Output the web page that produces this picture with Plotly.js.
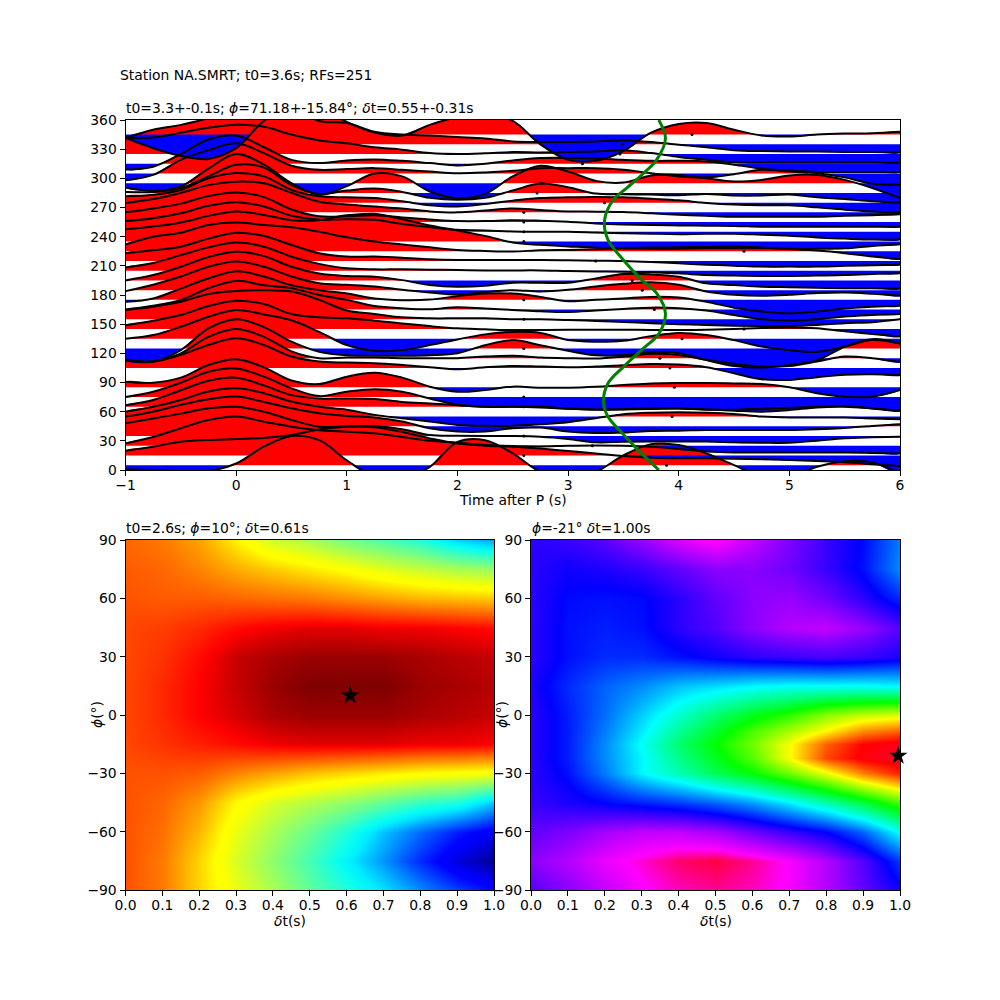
<!DOCTYPE html>
<html><head><meta charset="utf-8">
<script src="https://cdn.plot.ly/plotly-3.0.1.min.js"></script>
<style>html,body{margin:0;padding:0;background:#fff}#g{width:1000px;height:1000px}</style></head>
<body><div id="g"></div>
<script>
// time samples every 0.25 s from -1 to 6
const times=[-1,-.75,-.5,-.25,0,.25,.5,.75,1,1.25,1.5,1.75,2,2.25,2.5,2.75,3,3.25,3.5,3.75,4,4.25,4.5,4.75,5,5.25,5.5,5.75,6];
const phiBins=[5,15,25,35,45,55,65,75,85,105,115,125,135,145,155,165,175,185,195,205,215,225,235,245,255,265,275,285,295,305,315,325,335,345];
const rfCounts=[1,1,4,2,4,10,2,1,1,2,2,1,1,1,1,16,4,47,31,8,5,2,2,9,38,12,14,11,2,1,1,8,5,1];
const amp_345=[-3.4,-14,-22,-25,-14,14,30,30,13,2,-1,10,18,22,14,-10,-26,-27,-17,2,11,12,5,-1,-2,0,1,1.5,3];
const amp_335=[6.5,15,20,27,38,40,38,24,22,13,10,9,7.5,6,3,2.4,2.4,3,4,2.4,-.5,-3,-6,-7,-7.5,-7.5,-8,-8,-8.5];
const amp_325=[16.5,17,22,27,30,28,20,14,11,7,4.5,1,0,.7,2,1.7,2,2.7,3.8,1,-3,-6,-8.5,-9,-9,-9,-9,-9,-9];
const amp_315=[-6,-3,10,25,29,17,4,.7,3.4,4.5,3,.7,-1.7,0,3.4,5.8,6,5.5,4,3,3,2.4,-1,-5,-7,-8.5,-8.5,-8.5,-8.5];
const amp_305=[-7,-1.4,14,24,31,21,8,3.8,4.5,5.5,3.8,2,.3,1,2.7,5.5,5.5,5.5,3.8,.3,-3,-4,-.7,3.8,2,.3,-4,-10.6,-11.6];
const amp_295=[-4.5,-8,-3.4,15,30,19,0,-12,-3,10,7,-8.5,-15.5,-11,7,18,12,2.4,.7,8,8.5,5,1.7,3.4,8,8.5,3.4,-5,-15.4];
const amp_285=[1,1,5,17,29,26,8,-1,2.4,4.5,1,-5,-7,-5,2.4,9.6,5.8,-.7,-1.4,-1.7,-2.4,-1,-2.7,-2.7,-1.7,-4.5,-6.2,-8.6,-10];
const amp_275=[6.5,8,13,25,30.5,27,13,6.5,5.5,4.8,1.4,-2.7,-4,-1.4,2,4.8,5.5,5.8,5.5,4,2.4,-.3,-2,-2.7,-2.7,-4.8,-7.2,-9,-10];
const amp_265=[9.6,13.7,20,28,31.6,30,20,11,8,6,4,1,0,2,4,2.4,1,.7,.3,-1,-2.5,-3.5,-4.5,-4.5,-4.5,-4.5,-3.5,-3,-2];
const amp_255=[10,14,19,26.7,30.5,25.7,13,6,6,7,4.8,2.7,1,1,2,1.4,.3,-1.4,-2.4,-3,-3.4,-3.8,-4,-4.8,-4.8,-4.8,-4.8,-4.8,-4.8];
const amp_245=[11,14,19,26.7,30.5,26,16.5,12.3,13,12.3,8,4.8,2,1.4,.3,0,0,-.7,-1.4,-2,-2.4,-2,-2,-3,-4,-5.8,-7,-8,-8];
const amp_235=[12.7,15.4,19.5,26.4,30.8,27.4,22,22,27,28.5,23,16.5,11.3,5.8,-1,-3.4,-5,-6.5,-7,-7.5,-7.5,-7,-7,-7,-7.5,-7.5,-7,-4.5,-2.7];
const amp_225=[7,15,19,27,29.5,27,24.7,20,14.4,10,7,4,1.4,.3,-.3,1,1.4,2,3,3.8,4,4.5,4.8,3.8,2.4,.7,-2,-5.5,-8];
const amp_215=[8,11,14.7,23,29,25.7,16.5,8,4.5,4.5,3.4,1.7,1,1,1,1,.7,.3,0,-1,-2.4,-3.8,-4.8,-5.8,-5.8,-5.8,-5,-4.5,-4];
const amp_205=[3.4,8,16,24,29,24.7,14.4,7,2.4,1.4,1.4,1,.7,.3,.3,.3,-.3,-.7,-1,-1.7,-2.7,-4.5,-5,-5.5,-5.5,-5,-4.5,-3.4,-2.7];
const amp_195=[0,5.5,14,24,29.5,25,14,7,4.5,3.8,.3,-4.8,-6.5,-5.5,-2.4,-2.4,-2.4,2,6.5,6.2,3.8,-3,-4.8,-6.5,-7,-7.5,-8,-8,-8.5];
const amp_185=[-1,5.5,14,24,29.5,24,14,7,5.5,3.8,.3,-2.4,-4.5,-2,0,-1.4,.3,3.8,6.5,8,5.5,-1.4,-4.8,-5.8,-4.8,-3,-2.4,-3.8,-5.8];
const amp_175=[-2,1.4,11.6,22,29.5,24,15,10,6.5,1.4,-.3,.3,3.8,6.5,6.5,3,-1.4,0,1.4,3,2.4,-2,-8,-12,-14,-12,-9,-7,-6];
const amp_165=[0,4,10,22,29.5,25,22,15,10,3.8,1.4,.3,2.4,1,-.3,-1.7,-2.4,-1,.7,2,1.4,-1,-5.5,-10,-11.3,-10,-7,-5.5,-4.5];
const amp_155=[9.6,13,18,26,29,30,28.5,20,9,5.5,2,1,1,1,0,0,-.7,-1.7,-2.7,-4,-5,-5.8,-6.5,-6.8,-6.8,-5.8,-4,-3,0];
const amp_145=[4,8.6,14.4,23.6,29,25.7,15.4,12,11,8.6,5.8,3,.7,-.3,-1.4,-1,-.7,-.7,-.7,-1,-1,-.7,0,1,1.7,.7,-2.4,-5,-7.7];
const amp_135=[0,3.8,12.3,22.6,29.5,25,19,7,-6.5,-12.4,-11.7,-6.5,-.7,4.5,7,6,-1.4,-3,-2,2.7,6,3.8,-1.4,-8,-11.7,-13.4,-8,-1.4,-4.8];
const amp_125=[-12,-13.7,-1.7,20.6,30,22,7,-3.4,-7,-7.5,-7.5,-7,-5,3.4,8.6,3.4,-2.4,-7,-7,-4,-5,-12,-18,-19.5,-17,-12,1.7,9.6,5];
const amp_115=[-1.7,-3.4,5,22,30,22,7,0,.7,.7,0,0,0,1.7,2.4,.7,0,-.3,1.7,4.5,3.4,-1.7,-5.8,-8.6,-8,-3.4,1.7,0,-4];
const amp_105=[8,6.5,13.4,23.6,30.5,23.6,11.7,6.5,5.5,4.8,3,.7,-1.4,.7,2,1.4,.7,1.4,2.7,4,3.4,.7,-5.5,-11.7,-12.3,-9.6,-7,-6.5,-7.5];
const amp_85=[5.8,4.8,10,23,28.8,20.6,7,3.4,11,15,10,.7,-4.5,-2.7,.7,-.3,-.3,.7,2.4,4,4.5,4.5,4,3.4,0,-6,-9.6,-9.6,-2.7];
const amp_75=[0,5.5,14.7,26,29.5,21,9,1,5.5,8,5.5,-1.4,-8,-10,-10,-10,-11.7,-12.7,-12.7,-12.3,-11.7,-12.7,-14,-15,-13.4,-10.6,-10,-11.7,-14];
const amp_65=[1.7,7,17,26.7,30,22,12,8.6,8.6,8,5,3.4,1.7,0,0,-.7,-2,-3,-2.4,-1.7,-1.7,-3,-3,-2,-1,0,.7,-1.7,-4];
const amp_55=[5,10,17,25.7,29,24,15.4,10,7,1.7,-1.7,-5,-8.6,-9.6,-9.6,-8,-5.8,-1.7,2.4,4,4.5,4,2.7,0,-1,-1,-1,-2,-2.7];
const amp_45=[10,15,22,27.8,30.5,25,18.5,13.4,10.6,9,4.8,-2,-5.5,-5.5,-2,-1.4,-5.5,-7,-6.5,-4.8,-4.5,-3.8,-3.8,-3.8,-3.8,-3,-1.7,.3,2];
const amp_35=[13,18,23,28.5,30,25,16.5,9.6,10,10,7,1,.3,0,0,-.7,-3,-6.5,-6,-5.8,-5.8,-5.8,-6.5,-7,-7,-4.8,-2.4,-1.4,-.7];
const amp_25=[2.4,9,18,26.4,30,24.7,19.5,16,14.4,12.7,9,5,3,.7,-.3,-.7,0,.3,0,-1,-3.4,-6,-7,-7,-7,-7,-7,-7.5,-8];
const amp_15=[4.8,9,14,15.8,16.8,18,21,26.7,29.5,29,24,17.5,12.3,10,9,7,4.5,2,-.7,-2.4,-3,-3,-3.4,-4,-4.8,-5.8,-7,-9,-11];
const amp_5=[-4.3,-5,-6,-6,1.7,19,30,25.7,5,-12,-14,-1.7,24,25.7,12,-7,-14,-7,10,21.6,20.6,12,0,-12,-12,-1.7,4,2.7,-8.6];
const allAmps=[amp_5,amp_15,amp_25,amp_35,amp_45,amp_55,amp_65,amp_75,amp_85,amp_105,amp_115,amp_125,amp_135,amp_145,amp_155,amp_165,amp_175,amp_185,amp_195,amp_205,amp_215,amp_225,amp_235,amp_245,amp_255,amp_265,amp_275,amp_285,amp_295,amp_305,amp_315,amp_325,amp_335,amp_345];
// green predicted-delay curve
const green_t=[3.82,3.62,3.48,3.36,3.32,3.36,3.5,3.68,3.82,3.88,3.8,3.67,3.5,3.36,3.33,3.41,3.53,3.68,3.8,3.88,3.82];
const green_phi=[0,22,39,55,70,89,106,125,140,161,182,195,216,237,257,278,290,305,319,341,360];
// per-bin picked delays
const dot_t=[4.12,3.49,3.47,3.13,2.76,2.72,3.33,2.6,2.6,2.6,2.6,4.59,3.25,3.58,3.67,2.6,3.78,2.6,4.59,4.03,2.6,3.83,3.92,3.96,2.6,2.6,3.94,2.6,3.22,2.6,3.89];
const dot_phi=[345,335,325,315,295,285,275,265,255,245,235,225,215,195,185,175,165,155,145,135,125,115,105,85,75,65,55,35,25,15,5];
// grids
const dtGrid=[0,.1,.2,.3,.4,.5,.6,.7,.8,.9,1];
const phiGridLeft=[-90,-75,-60,-45,-30,-15,0,15,30,45,60,75,90];
const phiGridRight=[-90,-75,-60,-45,-30,-22,-15,-8,0,15,30,45,60,75,90];
const zLeft=[
[.83,.79,.70,.62,.55,.47,.40,.33,.25,.18,.13],
[.83,.79,.70,.60,.52,.44,.35,.26,.16,.08,.02],
[.83,.80,.73,.62,.55,.48,.40,.30,.22,.15,.10],
[.83,.81,.76,.66,.60,.56,.52,.47,.42,.39,.30],
[.83,.83,.82,.78,.75,.72,.70,.68,.66,.65,.64],
[.84,.86,.88,.90,.92,.93,.93,.93,.92,.92,.91],
[.84,.87,.91,.94,.97,.98,.98,.98,.97,.96,.95],
[.84,.87,.91,.95,.98,1.0,1.0,1.0,.98,.97,.96],
[.84,.86,.90,.95,.97,.98,.98,.98,.97,.96,.95],
[.84,.85,.87,.90,.92,.93,.93,.92,.92,.91,.90],
[.83,.82,.82,.81,.80,.79,.77,.75,.73,.72,.71],
[.82,.81,.78,.74,.71,.68,.65,.61,.58,.55,.53],
[.81,.79,.75,.67,.59,.55,.49,.45,.40,.32,.27]];
const zRight=[
[.17,.13,.09,.05,.03,.02,.03,.05,.10,.16,.22],
[.13,.10,.06,.035,.01,.0,.02,.05,.10,.17,.27],
[.16,.14,.11,.09,.09,.11,.15,.19,.23,.30,.42],
[.19,.21,.23,.25,.27,.30,.34,.40,.47,.55,.65],
[.20,.24,.32,.41,.47,.54,.60,.68,.77,.88,.95],
[.20,.25,.33,.41,.50,.58,.66,.78,.92,.98,1.0],
[.20,.25,.33,.42,.52,.60,.68,.78,.90,.97,.99],
[.20,.25,.32,.40,.49,.57,.65,.72,.79,.87,.90],
[.20,.25,.31,.38,.45,.52,.58,.63,.70,.74,.76],
[.21,.26,.30,.33,.37,.39,.41,.42,.42,.42,.41],
[.20,.24,.26,.26,.24,.22,.20,.19,.18,.19,.21],
[.20,.24,.25,.24,.20,.17,.13,.10,.09,.12,.17],
[.20,.235,.24,.235,.20,.16,.13,.12,.15,.20,.26],
[.20,.22,.21,.19,.16,.13,.13,.15,.19,.24,.33],
[.20,.19,.165,.12,.07,.04,.09,.14,.19,.235,.32]];
const jetScale=[[0,'#00007f'],[.11,'#0000ff'],[.125,'#0000ff'],[.34,'#00eeff'],[.375,'#09fff0'],[.64,'#fcff00'],[.66,'#ffff00'],[.89,'#ff1400'],[.91,'#ff0000'],[1,'#7f0000']];
const rainbowScale=[[0,'#ff0040'],[.046,'#ff00ff'],[.23,'#0000ff'],[.414,'#00ffff'],[.6,'#00ff00'],[.785,'#ffff00'],[.97,'#ff0000'],[1,'#ff0029']];
const starLeftDt=[.61], starLeftPhi=[10], starRightDt=[.995], starRightPhi=[-21];

const FONT='"DejaVu Sans", sans-serif';
const data=[];
// sign-separated fills
function fillPieces(base,amp){
  const out=[];let cur=null,sgn=0;
  for(let i=0;i<times.length;i++){
    const a=amp[i],s=a>=0?1:-1;
    if(cur===null){cur={s:s,x:[times[i],times[i]],y:[base,base+a]};sgn=s;}
    else if(s!==sgn){
      const p=amp[i-1],f=p/(p-a),xc=times[i-1]+f*(times[i]-times[i-1]);
      cur.x.push(xc);cur.y.push(base);out.push(cur);
      cur={s:s,x:[xc,times[i]],y:[base,base+a]};sgn=s;
    } else {cur.x.push(times[i]);cur.y.push(base+a);}
  }
  cur.x.push(times[times.length-1]);cur.y.push(base);out.push(cur);
  return out;
}
phiBins.forEach((b,k)=>{
  fillPieces(b,allAmps[k]).forEach(p=>{
    data.push({type:'scatter',mode:'lines',x:p.x,y:p.y,xaxis:'x',yaxis:'y',fill:'toself',
      fillcolor:p.s>0?'#ff0000':'#0000ff',line:{width:0,shape:'spline',color:'rgba(0,0,0,0)'},hoverinfo:'skip',showlegend:false});
  });
});
phiBins.forEach((b,k)=>{
  data.push({type:'scatter',mode:'lines',x:times,y:allAmps[k].map(a=>b+a),xaxis:'x',yaxis:'y',
    line:{color:'#000',width:2,shape:'spline'},hoverinfo:'skip',showlegend:false});
});
data.push({type:'scatter',mode:'markers',x:dot_t,y:dot_phi,xaxis:'x',yaxis:'y',marker:{color:'#000',size:3},hoverinfo:'skip',showlegend:false});
data.push({type:'scatter',mode:'lines',x:green_t,y:green_phi,xaxis:'x',yaxis:'y',
  line:{color:'#008000',width:3,shape:'spline'},hoverinfo:'skip',showlegend:false});
data.push({type:'heatmap',x:dtGrid,y:phiGridLeft,z:zLeft,zmin:0,zmax:1,colorscale:jetScale,zsmooth:'best',showscale:false,xaxis:'x2',yaxis:'y2',hoverinfo:'skip'});
data.push({type:'heatmap',x:dtGrid,y:phiGridRight,z:zRight,zmin:0,zmax:1,colorscale:rainbowScale,zsmooth:'best',showscale:false,xaxis:'x3',yaxis:'y3',hoverinfo:'skip'});
data.push({type:'scatter',mode:'markers',x:starLeftDt,y:starLeftPhi,xaxis:'x2',yaxis:'y2',marker:{symbol:'star',size:14,color:'#000'},hoverinfo:'skip',showlegend:false});
data.push({type:'scatter',mode:'markers',x:starRightDt,y:starRightPhi,xaxis:'x3',yaxis:'y3',cliponaxis:false,marker:{symbol:'star',size:14,color:'#000'},hoverinfo:'skip',showlegend:false});

const axBase={showgrid:false,zeroline:false,showline:true,mirror:true,linecolor:'#000',linewidth:1,ticks:'outside',ticklen:5,tickwidth:1,tickcolor:'#000',
  tickfont:{family:FONT,size:13.9,color:'#000'},automargin:false};
const xShift=-3;
const dtTicks=[0,.1,.2,.3,.4,.5,.6,.7,.8,.9,1];
const dtLabels=['0.0','0.1','0.2','0.3','0.4','0.5','0.6','0.7','0.8','0.9','1.0'];
const titleFont={family:FONT,size:13.9,color:'#000'};
const ann=phiBins.map((b,k)=>({xref:'x',yref:'y',x:6.14,y:b,text:String(rfCounts[k]),showarrow:false,xanchor:'left',yanchor:'middle',
  font:{family:FONT,size:9.7,color:'#000'}}));
function note(px,py,t){return {xref:'paper',yref:'paper',x:px/1000,y:1-py/1000,text:t,showarrow:false,xanchor:'left',yanchor:'middle',font:titleFont};}
function xlab(px,py,t){return {xref:'paper',yref:'paper',x:px/1000,y:1-py/1000,text:t,showarrow:false,xanchor:'center',yanchor:'middle',font:titleFont};}
function ylab(px,py,t){return {xref:'paper',yref:'paper',x:px/1000,y:1-py/1000,text:t,showarrow:false,xanchor:'center',yanchor:'middle',textangle:-90,font:titleFont};}
ann.push(note(118,75,'Station NA.SMRT; t0=3.6s; RFs=251'));
ann.push(note(124,108,'t0=3.3+-0.1s; <i>ϕ</i>=71.18+-15.84°; <i>δ</i>t=0.55+-0.31s'));
ann.push(note(124,528,'t0=2.6s; <i>ϕ</i>=10°; <i>δ</i>t=0.61s'));
ann.push(note(530,528,'<i>ϕ</i>=-21° <i>δ</i>t=1.00s'));
ann.push(xlab(512.5,500,'Time after P (s)'));
ann.push(xlab(289.5,921,'<i>δ</i>t(s)'));
ann.push(xlab(715.5,921,'<i>δ</i>t(s)'));
ann.push(ylab(97,715,'<i>ϕ</i>(°)'));
ann.push(ylab(502,715,'<i>ϕ</i>(°)'));
const layout={width:1000,height:1000,margin:{l:0,r:0,t:0,b:0},paper_bgcolor:'#fff',plot_bgcolor:'#fff',showlegend:false,hovermode:false,annotations:ann,
  xaxis:{...axBase,ticklabelstandoff:xShift,domain:[.1255,.9],range:[-1,6],tickmode:'array',tickvals:[-1,0,1,2,3,4,5,6],anchor:'y'},
  yaxis:{...axBase,domain:[.53,.88],range:[0,360],tickmode:'array',tickvals:[0,30,60,90,120,150,180,210,240,270,300,330,360],anchor:'x'},
  xaxis2:{...axBase,ticklabelstandoff:xShift,domain:[.1255,.494],range:[0,1],tickmode:'array',tickvals:dtTicks,ticktext:dtLabels,anchor:'y2'},
  yaxis2:{...axBase,domain:[.11,.46],range:[-90,90],tickmode:'array',tickvals:[-90,-60,-30,0,30,60,90],anchor:'x2'},
  xaxis3:{...axBase,ticklabelstandoff:xShift,domain:[.531,.9],range:[0,1],tickmode:'array',tickvals:dtTicks,ticktext:dtLabels,anchor:'y3'},
  yaxis3:{...axBase,domain:[.11,.46],range:[-90,90],tickmode:'array',tickvals:[-90,-60,-30,0,30,60,90],anchor:'x3'}
};
Plotly.newPlot('g',data,layout,{staticPlot:true,displayModeBar:false});
</script></body></html>
